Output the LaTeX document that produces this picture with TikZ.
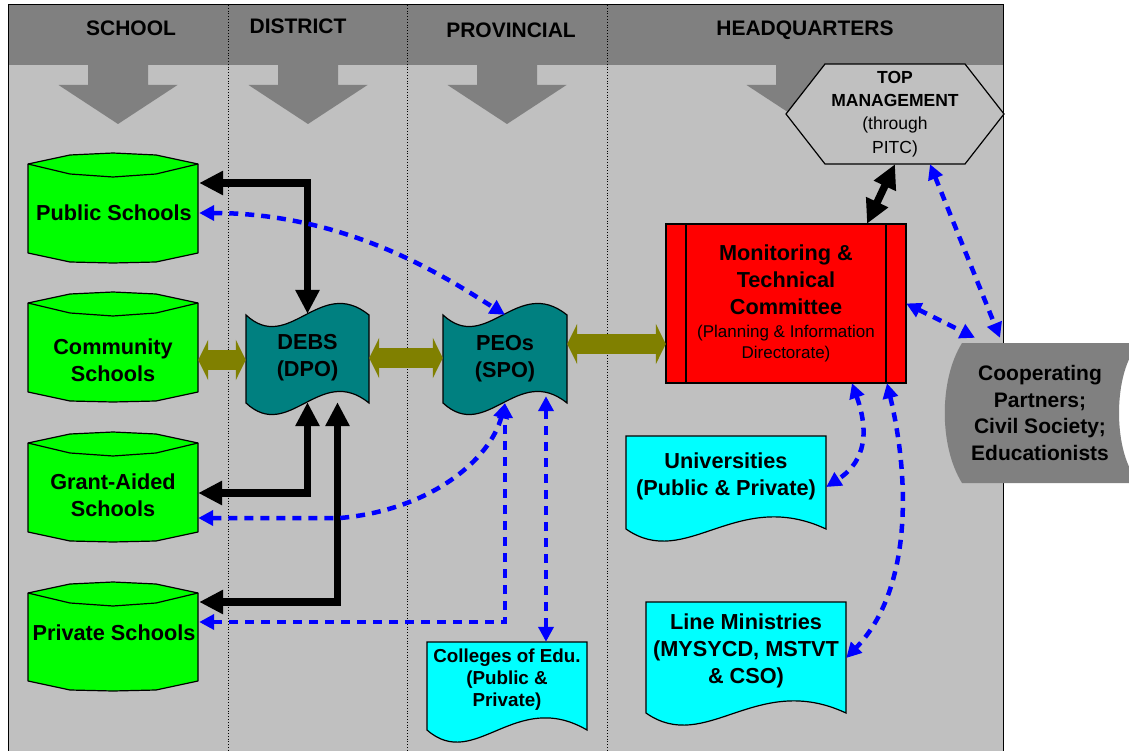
\documentclass[tikz,border=0pt]{standalone}
\usepackage{fontspec}
\setmainfont{Liberation Sans}
\usetikzlibrary{arrows.meta}

\definecolor{panel}{HTML}{C0C0C0}
\definecolor{band}{HTML}{808080}
\definecolor{aqua}{HTML}{00FFFF}
\definecolor{lime}{HTML}{00FF00}
\definecolor{scarlet}{HTML}{FF0000}
\definecolor{deepteal}{HTML}{008080}
\definecolor{khaki}{HTML}{808000}
\definecolor{linkblue}{HTML}{0000FF}

\newcommand\smallfnt{\fontsize{17}{21}\selectfont\mdseries}

% green data-store drum: left x, rim y, bottom y
\newcommand\drumshape[3]{%
  \filldraw[drum] (#1,#2) -- (#1+42,#2-9) -- (#1+85,#2-11) -- (#1+128,#2-9) -- (#1+170,#2)
    -- (#1+170,#3) -- (#1+128,#3+9) -- (#1+85,#3+10) -- (#1+42,#3+9) -- (#1,#3) -- cycle;
  \draw[drum, fill=none] (#1,#2) -- (#1+42,#2+10) -- (#1+85,#2+13) -- (#1+128,#2+10) -- (#1+170,#2);
}
% punched-tape shape: left x, width, top y, bottom y
\newcommand\tapeshape[4]{%
  \filldraw[tape] (#1,#3) .. controls (#1+0.35*#2,#3+40) and (#1+0.6*#2,#3-40) .. (#1+#2,#3)
    -- (#1+#2,#4) .. controls (#1+0.6*#2,#4-40) and (#1+0.35*#2,#4+40) .. (#1,#4) -- cycle;
}
% document shape with wavy foot: left x, width, top y, foot y
\newcommand\docshape[4]{%
  \filldraw[docsh] (#1,#3) -- (#1+#2,#3) -- (#1+#2,#4)
    .. controls (#1+0.55*#2,#4-42) and (#1+0.3*#2,#4+42) .. (#1,#4) -- cycle;
}

\tikzset{
  lbl/.style={font=\fontsize{21}{26.5}\selectfont\bfseries, align=center, inner sep=0pt},
  biglbl/.style={font=\fontsize{21.7}{27}\selectfont\bfseries, align=center, inner sep=0pt},
  drum/.style={fill=lime, draw=black, line width=1.2pt, line join=round},
  tape/.style={fill=deepteal, draw=black, line width=1.2pt},
  docsh/.style={fill=aqua, draw=black, line width=1.2pt},
  outline/.style={draw=black, line width=1.2pt},
  blk/.style={line width=7.5pt, black,
    {Triangle[length=24pt,width=23pt]}-{Triangle[length=24pt,width=23pt]}},
  oliv/.style={line width=20pt, khaki,
    {Triangle[length=10pt,width=40pt]}-{Triangle[length=10pt,width=40pt]}},
  bdash/.style={line width=4.5pt, linkblue, dash pattern=on 9pt off 7pt,
    {Triangle[length=15pt,width=15pt]}-{Triangle[length=15pt,width=15pt]}},
}

\begin{document}
\begin{tikzpicture}[x=1pt,y=-1pt]
\useasboundingbox (0,0) rectangle (1129,751);

% lanes
\fill[panel] (8,5) rectangle (1003,751);
\fill[band] (8,5) rectangle (1003,65);
\foreach \c in {118,308,507,806} {
  \fill[band] (\c-30,64) -- (\c+30,64) -- (\c+30,85) -- (\c+59.5,85) -- (\c,124)
    -- (\c-59.5,85) -- (\c-30,85) -- cycle;
}
\draw[line width=1pt] (8,751) -- (8,5) -- (1003,5) -- (1003,751);
\foreach \x in {228,407,607} \draw[dotted, line width=0.8pt] (\x,5) -- (\x,751);

\node[lbl] (hschool) at (131,28) {SCHOOL};
\node[lbl] (hdistrict) at (298,26) {DISTRICT};
\node[lbl] (hprov) at (511,30) {PROVINCIAL};
\node[lbl] (hhq) at (805,30) {HEADQUARTERS};

% shapes
\drumshape{28}{164}{253}
\drumshape{28}{303}{392}
\drumshape{28}{443}{532}
\drumshape{28}{593}{681}
\tapeshape{246}{123}{315}{403}
\tapeshape{443}{124}{315}{403}
\docshape{626}{200}{436}{529}
\docshape{646}{200}{602}{713}
\docshape{427}{160}{642}{730}
\filldraw[fill=scarlet, outline] (666,224) rectangle (906,383);
\draw[outline] (686,224) -- (686,383) (886,224) -- (886,383);
\filldraw[fill=panel, outline] (786,114) -- (825,64) -- (965,64) -- (1004,114) -- (965,164) -- (825,164) -- cycle;
\fill[band] (962,343) -- (1140,343) .. controls (1112,370) and (1112,456) .. (1140,483)
  -- (962,483) .. controls (939,446) and (939,380) .. (962,343) -- cycle;

% labelled nodes
\node[biglbl, minimum width=170pt] (pub) at (114,213) {Public Schools};
\node[biglbl, minimum width=170pt] (com) at (113,360) {Community\\Schools};
\node[biglbl, minimum width=170pt] (gra) at (113,495) {Grant-Aided\\Schools};
\node[biglbl, minimum width=170pt] (pri) at (114,633) {Private Schools};
\node[biglbl, minimum width=123pt, minimum height=88pt] (debs) at (307.5,358) {DEBS\\(DPO)};
\node[biglbl, minimum width=124pt, minimum height=88pt] (peo) at (505,359) {PEOs\\(SPO)};
\node[biglbl, minimum width=240pt, minimum height=159pt] (red) at (786,303.5)
  {Monitoring \&\\Technical\\Committee\\[-4pt]\smallfnt (Planning \& Information\\[-6pt]\smallfnt Directorate)};
\node[font=\fontsize{17.5}{23.3}\selectfont, align=center, inner sep=0pt,
  minimum width=218pt, minimum height=100pt] (tm) at (895,114)
  {\textbf{TOP}\\\textbf{MANAGEMENT}\\(through\\PITC)};
\node[biglbl, minimum width=200pt, minimum height=80pt] (uni) at (726,476) {Universities\\(Public \& Private)};
\node[biglbl, minimum width=200pt, minimum height=98pt] (lm) at (746,651) {Line Ministries\\(MYSYCD, MSTVT\\\& CSO)};
\node[font=\fontsize{18.8}{22}\selectfont\bfseries, align=center, inner sep=0pt,
  minimum width=160pt, minimum height=76pt] (col) at (507,680) {Colleges of Edu.\\(Public \&\\Private)};
\node[font=\fontsize{21}{26.7}\selectfont\bfseries, align=center, inner sep=0pt,
  minimum width=190pt, minimum height=140pt] (coop) at (1040,413)
  {Cooperating\\Partners;\\Civil Society;\\Educationists};

% line-management links
\draw[blk] ([yshift=30pt]pub.east) -| (debs.north);
\draw[blk] ([yshift=2pt]gra.east) -| (debs.south);
\draw[blk] ([yshift=31pt]pri.east) -| ([xshift=30pt]debs.south);
\draw[blk] ([xshift=81pt]red.north) -- (tm.south);

% reporting links
\draw[oliv] (com.east) -- (com.east -| debs.west);
\draw[oliv] (debs.east) -- (debs.east -| peo.west);
\coordinate (peoR) at ([yshift=15pt]peo.east);
\draw[oliv] (peoR) -- (peoR -| red.west);

% information links
\draw[bdash] (pub.east) .. controls (350,213) and (450,280) .. (peo.north);
\draw[bdash] ([yshift=-23pt]gra.east) -- ++(142,0) .. controls (430,510) and (490,460) .. (peo.south);
\draw[bdash] ([yshift=11pt]pri.east) -| (peo.south);
\draw[bdash] ([xshift=41pt,yshift=7pt]peo.south) -- ([xshift=39pt]col.north);
\draw[bdash] ([xshift=35pt]tm.south) -- ([xshift=-40pt,yshift=5pt]coop.north);
\draw[bdash] (red.east) -- ([xshift=-65pt,yshift=5pt]coop.north);
\draw[bdash] ([xshift=66pt]red.south) .. controls (872,440) and (860,465) .. ([yshift=-11pt]uni.east);
\draw[bdash] ([xshift=101pt]red.south) .. controls (910,480) and (912,590) .. ([yshift=-7pt]lm.east);
\end{tikzpicture}
\end{document}
